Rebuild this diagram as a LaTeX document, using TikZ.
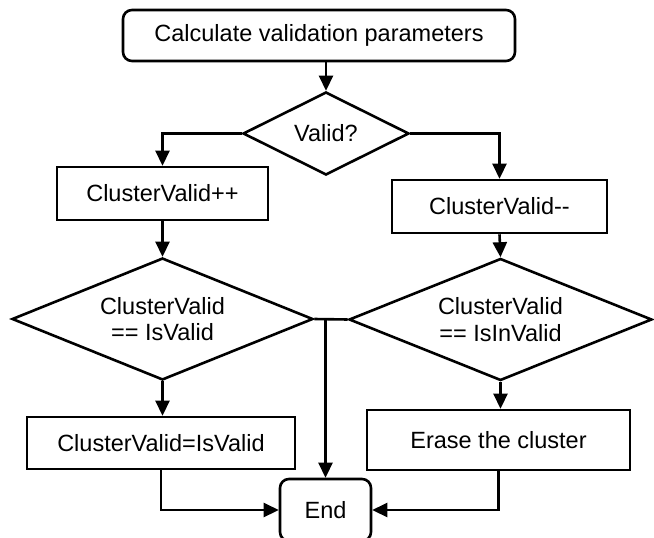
\documentclass[tikz,border=0pt]{standalone}
\usepackage{fontspec}
\setmainfont{Liberation Sans}
\usetikzlibrary{positioning, shapes.geometric, arrows.meta}

\begin{document}
\begin{tikzpicture}[x=1pt, y=-1pt, line width=2.6pt,
  font=\fontsize{23.5}{26.5}\selectfont,
  >={Triangle[length=15pt,width=14pt]},
  stepbox/.style={draw, rectangle, inner sep=0pt, align=center},
  startbox/.style={stepbox, rounded corners=9pt},
  test/.style={draw, diamond, inner sep=0pt, align=center}]
\useasboundingbox (0,0) rectangle (654,538);
\node (calc) at (319,35.5) [startbox, minimum width=392pt, minimum height=51pt] {Calculate validation parameters};
\node (valid) at (326,133.5) [test, aspect=2, minimum width=166pt, minimum height=83pt] {Valid?};
\node (plus) at (162.5,193.5) [stepbox, minimum width=211pt, minimum height=53pt] {ClusterValid++};
\node (minus) at (499.5,206.5) [stepbox, minimum width=215pt, minimum height=53pt] {ClusterValid-{}-};
\node (cvalid) at (162.5,319) [test, aspect=2.47, minimum width=301pt, minimum height=122pt] {ClusterValid\\== IsValid};
\node (cinvalid) at (500.5,319.5) [test, aspect=2.48, minimum width=303pt, minimum height=122pt] {ClusterValid\\== IsInValid};
\node (setvalid) at (161,443) [stepbox, minimum width=268pt, minimum height=52pt] {ClusterValid=IsValid};
\node (erase) at (498.5,440) [stepbox, minimum width=263pt, minimum height=60pt] {Erase the cluster};
\node (end) at (325.5,510) [startbox, minimum width=91pt, minimum height=62pt] {End};
\draw[->] (calc.south -| valid.north) -- (valid.north);
\draw[->] (valid.west) -| (plus.north);
\draw[->] (valid.east) -| (minus.north);
\draw[->] (plus.south) -- (cvalid.north);
\draw[->] (minus.south) -- (cinvalid.north);
\draw (cvalid.east) -- (cinvalid.west);
\draw[->] (cvalid.east -| end.north) -- (end.north);
\draw[->] (cvalid.south) -- (cvalid.south |- setvalid.north);
\draw[->] (cinvalid.south) -- (cinvalid.south |- erase.north);
\draw[->] (setvalid.south) |- (end.west);
\draw[->] (erase.south) |- (end.east);
\end{tikzpicture}
\end{document}
